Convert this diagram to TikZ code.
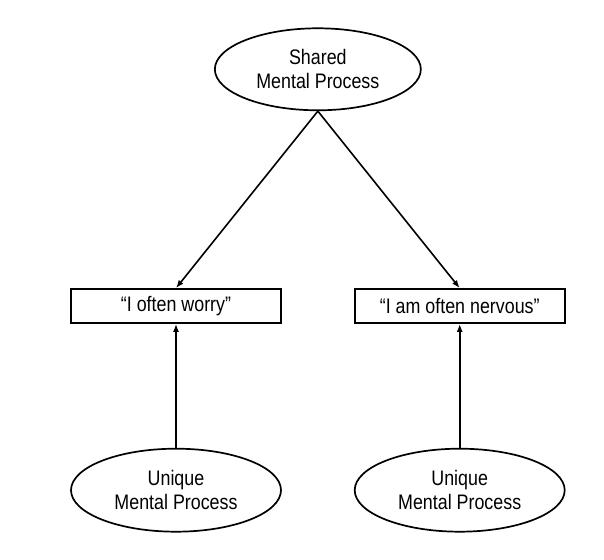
\documentclass[tikz,border=0pt]{standalone}
\usepackage{fontspec}
\setmainfont{Liberation Sans}[FakeStretch=0.85]
\usetikzlibrary{arrows.meta,positioning,shapes.geometric,calc}
\tikzset{
  process/.style={draw,ellipse,line width=1.7pt,inner sep=0pt,
    minimum width=210pt,minimum height=83pt,align=center,
    font=\fontsize{21}{24}\selectfont},
  item/.style={draw,rectangle,line width=1.7pt,inner sep=0pt,
    minimum width=210pt,minimum height=34pt,
    font=\fontsize{21}{24}\selectfont},
  link/.style={-{Latex[length=8pt,width=6pt]},line width=1.6pt}
}

\begin{document}
\begin{tikzpicture}[x=1pt,y=1pt]
  \useasboundingbox (0,0) rectangle (604,559);

  \node[item] (worry) at (176,253) {``I often worry''};
  \node[item,right=72pt of worry] (nervous) {``I am often nervous''};

  \coordinate (mid) at ($(worry.north)!0.5!(nervous.north)$);
  \node[process,above=177pt of mid,minimum width=206pt,minimum height=82pt] (shared) {Shared\\Mental Process};

  \node[process,below=124pt of worry] (uniqueA) {Unique\\Mental Process};
  \node[process,below=124pt of nervous] (uniqueB) {Unique\\Mental Process};

  \draw[link] (shared.south) -- (worry.north);
  \draw[link] (shared.south) -- (nervous.north);
  \draw[link] (uniqueA) -- (worry);
  \draw[link] (uniqueB) -- (nervous);
\end{tikzpicture}
\end{document}
